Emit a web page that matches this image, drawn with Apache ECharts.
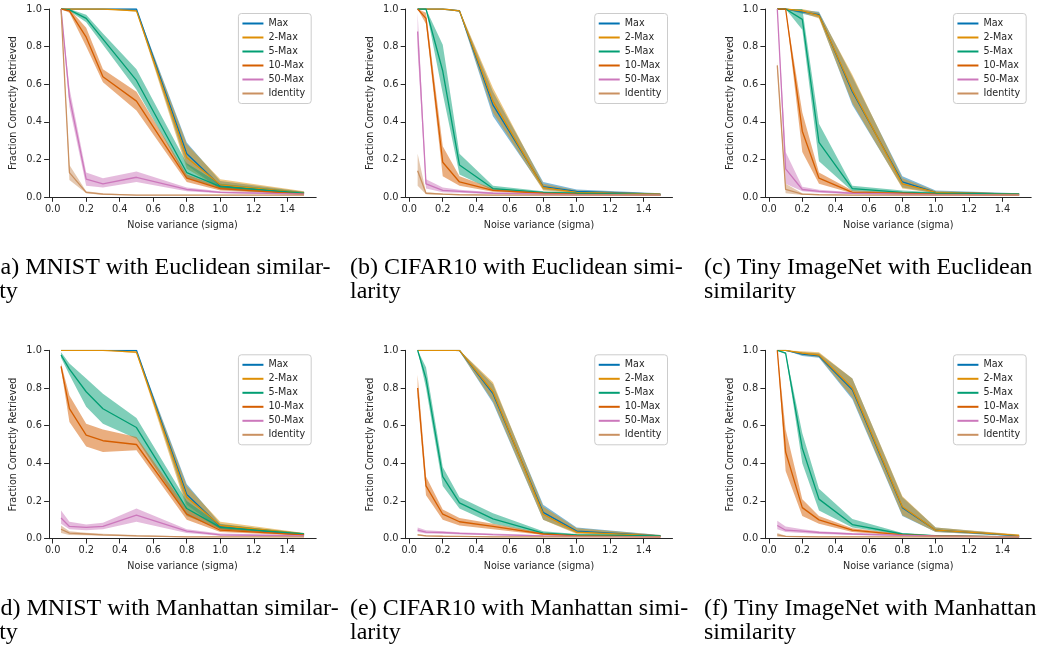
<!DOCTYPE html>
<html><head><meta charset="utf-8">
<script src="https://cdn.jsdelivr.net/npm/echarts@6/dist/echarts.min.js"></script>
<style>html,body{margin:0;padding:0;background:#fff}#c{width:1054px;height:647px}</style>
</head><body><div id="c"></div>
<script>
// ---------------- data ----------------
const sigma = [0.05, 0.1, 0.2, 0.3, 0.5, 0.8, 1.0, 1.5];
const seriesNames = ['Max', '2-Max', '5-Max', '10-Max', '50-Max', 'Identity'];
const seriesColors = ['#0173b2', '#de8f05', '#029e73', '#d55e00', '#cc78bc', '#ca9161'];
const xTicks = [0, 0.2, 0.4, 0.6, 0.8, 1.0, 1.2, 1.4];
const xLabel = 'Noise variance (sigma)';
const yLabel = 'Fraction Correctly Retrieved';
const captions = [
  ['(a) MNIST with Euclidean similar-', 'ity'],
  ['(b) CIFAR10 with Euclidean simi-', 'larity'],
  ['(c) Tiny ImageNet with Euclidean', 'similarity'],
  ['(d) MNIST with Manhattan similar-', 'ity'],
  ['(e) CIFAR10 with Manhattan simi-', 'larity'],
  ['(f) Tiny ImageNet with Manhattan', 'similarity']
];

// (a) MNIST, Euclidean
const aMax      = [1.0, 1.0, 1.0, 1.0, 1.0, 0.23, 0.06, 0.02];
const aMaxLo    = [1.0, 1.0, 1.0, 1.0, 0.99, 0.17, 0.04, 0.012];
const aMaxHi    = [1.0, 1.0, 1.0, 1.0, 1.0, 0.29, 0.085, 0.028];
const a2Max     = [1.0, 1.0, 1.0, 1.0, 0.99, 0.21, 0.065, 0.022];
const a2MaxLo   = [1.0, 1.0, 1.0, 1.0, 0.985, 0.15, 0.045, 0.015];
const a2MaxHi   = [1.0, 1.0, 1.0, 1.0, 0.995, 0.28, 0.095, 0.03];
const a5Max     = [1.0, 0.995, 0.95, 0.84, 0.62, 0.13, 0.055, 0.02];
const a5MaxLo   = [1.0, 0.99, 0.93, 0.81, 0.57, 0.10, 0.045, 0.015];
const a5MaxHi   = [1.0, 1.0, 0.97, 0.87, 0.68, 0.18, 0.07, 0.026];
const a10Max    = [1.0, 0.99, 0.85, 0.64, 0.51, 0.10, 0.045, 0.015];
const a10MaxLo  = [1.0, 0.98, 0.80, 0.61, 0.46, 0.08, 0.035, 0.01];
const a10MaxHi  = [1.0, 1.0, 0.90, 0.68, 0.56, 0.12, 0.055, 0.02];
const a50Max    = [1.0, 0.53, 0.095, 0.07, 0.105, 0.04, 0.025, 0.015];
const a50MaxLo  = [1.0, 0.48, 0.06, 0.05, 0.08, 0.03, 0.02, 0.01];
const a50MaxHi  = [1.0, 0.58, 0.13, 0.10, 0.135, 0.05, 0.03, 0.02];
const aId       = [1.0, 0.13, 0.025, 0.015, 0.01, 0.01, 0.01, 0.01];
const aIdLo     = [1.0, 0.09, 0.02, 0.01, 0.008, 0.008, 0.008, 0.008];
const aIdHi     = [1.0, 0.17, 0.03, 0.02, 0.012, 0.012, 0.012, 0.012];

// (b) CIFAR10, Euclidean
const bMax      = [1.0, 1.0, 1.0, 0.99, 0.49, 0.055, 0.03, 0.015];
const bMaxLo    = [1.0, 1.0, 1.0, 0.985, 0.43, 0.04, 0.022, 0.012];
const bMaxHi    = [1.0, 1.0, 1.0, 0.995, 0.56, 0.08, 0.04, 0.02];
const b2Max     = [1.0, 1.0, 1.0, 0.99, 0.51, 0.05, 0.025, 0.015];
const b2MaxLo   = [1.0, 1.0, 1.0, 0.985, 0.45, 0.035, 0.02, 0.012];
const b2MaxHi   = [1.0, 1.0, 1.0, 0.995, 0.58, 0.07, 0.035, 0.018];
const b5Max     = [1.0, 1.0, 0.67, 0.17, 0.045, 0.025, 0.02, 0.012];
const b5MaxLo   = [1.0, 1.0, 0.55, 0.12, 0.035, 0.02, 0.015, 0.01];
const b5MaxHi   = [1.0, 1.0, 0.81, 0.23, 0.06, 0.03, 0.025, 0.015];
const b10Max    = [1.0, 0.95, 0.185, 0.08, 0.035, 0.02, 0.015, 0.01];
const b10MaxLo  = [1.0, 0.92, 0.11, 0.06, 0.028, 0.015, 0.012, 0.008];
const b10MaxHi  = [1.0, 0.98, 0.27, 0.11, 0.045, 0.025, 0.02, 0.012];
const b50Max    = [0.88, 0.07, 0.035, 0.03, 0.02, 0.015, 0.012, 0.01];
const b50MaxLo  = [0.78, 0.045, 0.025, 0.022, 0.015, 0.012, 0.01, 0.008];
const b50MaxHi  = [0.98, 0.095, 0.05, 0.038, 0.025, 0.018, 0.015, 0.012];
const bId       = [0.14, 0.02, 0.015, 0.012, 0.01, 0.01, 0.01, 0.01];
const bIdLo     = [0.06, 0.015, 0.012, 0.01, 0.008, 0.008, 0.008, 0.008];
const bIdHi     = [0.23, 0.025, 0.018, 0.015, 0.012, 0.012, 0.012, 0.012];

// (c) Tiny ImageNet, Euclidean
const cMax      = [1.0, 1.0, 0.985, 0.97, 0.56, 0.08, 0.025, 0.015];
const cMaxLo    = [1.0, 1.0, 0.975, 0.955, 0.49, 0.05, 0.02, 0.012];
const cMaxHi    = [1.0, 1.0, 0.995, 0.985, 0.64, 0.11, 0.035, 0.02];
const c2Max     = [1.0, 1.0, 0.99, 0.965, 0.57, 0.07, 0.025, 0.015];
const c2MaxLo   = [1.0, 1.0, 0.98, 0.95, 0.50, 0.045, 0.02, 0.012];
const c2MaxHi   = [1.0, 1.0, 1.0, 0.98, 0.65, 0.10, 0.03, 0.018];
const c5Max     = [1.0, 1.0, 0.945, 0.29, 0.045, 0.025, 0.02, 0.015];
const c5MaxLo   = [1.0, 1.0, 0.89, 0.19, 0.03, 0.02, 0.015, 0.01];
const c5MaxHi   = [1.0, 1.0, 1.0, 0.39, 0.06, 0.035, 0.025, 0.018];
const c10Max    = [1.0, 1.0, 0.35, 0.10, 0.025, 0.02, 0.015, 0.01];
const c10MaxLo  = [1.0, 1.0, 0.24, 0.07, 0.02, 0.015, 0.012, 0.008];
const c10MaxHi  = [1.0, 1.0, 0.45, 0.13, 0.035, 0.025, 0.018, 0.012];
const c50Max    = [1.0, 0.15, 0.04, 0.03, 0.02, 0.015, 0.012, 0.01];
const c50MaxLo  = [1.0, 0.07, 0.03, 0.022, 0.015, 0.012, 0.01, 0.008];
const c50MaxHi  = [1.0, 0.24, 0.055, 0.038, 0.025, 0.018, 0.015, 0.012];
const cId       = [0.70, 0.04, 0.015, 0.012, 0.01, 0.01, 0.01, 0.01];
const cIdLo     = [0.68, 0.02, 0.01, 0.01, 0.008, 0.008, 0.008, 0.008];
const cIdHi     = [0.72, 0.07, 0.02, 0.015, 0.012, 0.012, 0.012, 0.012];

// (d) MNIST, Manhattan
const dMax      = [1.0, 1.0, 1.0, 1.0, 1.0, 0.235, 0.065, 0.02];
const dMaxLo    = [1.0, 1.0, 1.0, 1.0, 0.995, 0.18, 0.05, 0.015];
const dMaxHi    = [1.0, 1.0, 1.0, 1.0, 1.0, 0.29, 0.08, 0.025];
const d2Max     = [1.0, 1.0, 1.0, 1.0, 0.99, 0.22, 0.07, 0.025];
const d2MaxLo   = [1.0, 1.0, 1.0, 1.0, 0.985, 0.16, 0.05, 0.018];
const d2MaxHi   = [1.0, 1.0, 1.0, 1.0, 0.995, 0.28, 0.09, 0.03];
const d5Max     = [0.975, 0.9, 0.78, 0.69, 0.59, 0.16, 0.06, 0.025];
const d5MaxLo   = [0.96, 0.87, 0.70, 0.61, 0.53, 0.12, 0.05, 0.02];
const d5MaxHi   = [0.99, 0.93, 0.85, 0.77, 0.64, 0.20, 0.075, 0.03];
const d10Max    = [0.915, 0.69, 0.55, 0.52, 0.50, 0.13, 0.045, 0.02];
const d10MaxLo  = [0.90, 0.62, 0.49, 0.46, 0.47, 0.10, 0.035, 0.015];
const d10MaxHi  = [0.93, 0.76, 0.61, 0.58, 0.54, 0.16, 0.055, 0.025];
const d50Max    = [0.11, 0.065, 0.06, 0.065, 0.125, 0.04, 0.02, 0.015];
const d50MaxLo  = [0.08, 0.05, 0.045, 0.05, 0.09, 0.03, 0.015, 0.01];
const d50MaxHi  = [0.15, 0.09, 0.075, 0.085, 0.16, 0.05, 0.028, 0.02];
const dId       = [0.05, 0.03, 0.025, 0.02, 0.015, 0.01, 0.01, 0.01];
const dIdLo     = [0.03, 0.02, 0.018, 0.015, 0.012, 0.008, 0.008, 0.008];
const dIdHi     = [0.07, 0.04, 0.032, 0.026, 0.02, 0.012, 0.012, 0.012];

// (e) CIFAR10, Manhattan
const eMax      = [1.0, 1.0, 1.0, 1.0, 0.77, 0.14, 0.04, 0.015];
const eMaxLo    = [1.0, 1.0, 1.0, 0.995, 0.72, 0.10, 0.03, 0.012];
const eMaxHi    = [1.0, 1.0, 1.0, 1.0, 0.82, 0.18, 0.06, 0.02];
const e2Max     = [1.0, 1.0, 1.0, 1.0, 0.78, 0.13, 0.035, 0.015];
const e2MaxLo   = [1.0, 1.0, 1.0, 0.995, 0.73, 0.10, 0.025, 0.012];
const e2MaxHi   = [1.0, 1.0, 1.0, 1.0, 0.83, 0.17, 0.055, 0.02];
const e5Max     = [1.0, 0.85, 0.33, 0.19, 0.105, 0.03, 0.02, 0.015];
const e5MaxLo   = [1.0, 0.80, 0.28, 0.16, 0.08, 0.025, 0.015, 0.012];
const e5MaxHi   = [1.0, 0.91, 0.38, 0.22, 0.135, 0.04, 0.025, 0.018];
const e10Max    = [0.80, 0.28, 0.13, 0.09, 0.065, 0.025, 0.015, 0.01];
const e10MaxLo  = [0.75, 0.23, 0.10, 0.07, 0.05, 0.02, 0.012, 0.008];
const e10MaxHi  = [0.87, 0.33, 0.155, 0.11, 0.08, 0.03, 0.02, 0.012];
const e50Max    = [0.045, 0.035, 0.033, 0.028, 0.022, 0.015, 0.012, 0.01];
const e50MaxLo  = [0.035, 0.028, 0.026, 0.022, 0.018, 0.012, 0.01, 0.008];
const e50MaxHi  = [0.06, 0.045, 0.04, 0.034, 0.027, 0.018, 0.015, 0.012];
const eId       = [0.02, 0.015, 0.013, 0.012, 0.01, 0.01, 0.01, 0.01];
const eIdLo     = [0.015, 0.012, 0.01, 0.01, 0.008, 0.008, 0.008, 0.008];
const eIdHi     = [0.025, 0.018, 0.016, 0.014, 0.012, 0.012, 0.012, 0.012];

// (f) Tiny ImageNet, Manhattan
const fMax      = [1.0, 1.0, 0.98, 0.97, 0.79, 0.165, 0.045, 0.015];
const fMaxLo    = [1.0, 1.0, 0.97, 0.96, 0.74, 0.12, 0.035, 0.012];
const fMaxHi    = [1.0, 1.0, 0.99, 0.985, 0.85, 0.22, 0.06, 0.02];
const f2Max     = [1.0, 1.0, 0.985, 0.975, 0.80, 0.17, 0.045, 0.018];
const f2MaxLo   = [1.0, 1.0, 0.975, 0.965, 0.75, 0.125, 0.035, 0.014];
const f2MaxHi   = [1.0, 1.0, 0.995, 0.99, 0.85, 0.225, 0.06, 0.022];
const f5Max     = [1.0, 0.985, 0.48, 0.21, 0.075, 0.025, 0.015, 0.01];
const f5MaxLo   = [1.0, 0.98, 0.40, 0.15, 0.06, 0.02, 0.012, 0.008];
const f5MaxHi   = [1.0, 0.99, 0.56, 0.265, 0.105, 0.03, 0.02, 0.012];
const f10Max    = [1.0, 0.46, 0.165, 0.10, 0.045, 0.02, 0.015, 0.01];
const f10MaxLo  = [1.0, 0.36, 0.12, 0.08, 0.035, 0.015, 0.012, 0.008];
const f10MaxHi  = [1.0, 0.58, 0.21, 0.12, 0.055, 0.025, 0.018, 0.012];
const f50Max    = [0.07, 0.045, 0.04, 0.033, 0.025, 0.018, 0.013, 0.01];
const f50MaxLo  = [0.05, 0.035, 0.03, 0.025, 0.02, 0.014, 0.01, 0.008];
const f50MaxHi  = [0.095, 0.065, 0.05, 0.04, 0.03, 0.022, 0.016, 0.012];
const fId       = [0.02, 0.012, 0.011, 0.01, 0.01, 0.01, 0.01, 0.01];
const fIdLo     = [0.01, 0.009, 0.008, 0.008, 0.008, 0.008, 0.008, 0.008];
const fIdHi     = [0.03, 0.016, 0.014, 0.012, 0.012, 0.012, 0.012, 0.012];

// ---------------- assembly ----------------
const panels = [
  { mean: [aMax, a2Max, a5Max, a10Max, a50Max, aId], lo: [aMaxLo, a2MaxLo, a5MaxLo, a10MaxLo, a50MaxLo, aIdLo], hi: [aMaxHi, a2MaxHi, a5MaxHi, a10MaxHi, a50MaxHi, aIdHi] },
  { mean: [bMax, b2Max, b5Max, b10Max, b50Max, bId], lo: [bMaxLo, b2MaxLo, b5MaxLo, b10MaxLo, b50MaxLo, bIdLo], hi: [bMaxHi, b2MaxHi, b5MaxHi, b10MaxHi, b50MaxHi, bIdHi] },
  { mean: [cMax, c2Max, c5Max, c10Max, c50Max, cId], lo: [cMaxLo, c2MaxLo, c5MaxLo, c10MaxLo, c50MaxLo, cIdLo], hi: [cMaxHi, c2MaxHi, c5MaxHi, c10MaxHi, c50MaxHi, cIdHi] },
  { mean: [dMax, d2Max, d5Max, d10Max, d50Max, dId], lo: [dMaxLo, d2MaxLo, d5MaxLo, d10MaxLo, d50MaxLo, dIdLo], hi: [dMaxHi, d2MaxHi, d5MaxHi, d10MaxHi, d50MaxHi, dIdHi] },
  { mean: [eMax, e2Max, e5Max, e10Max, e50Max, eId], lo: [eMaxLo, e2MaxLo, e5MaxLo, e10MaxLo, e50MaxLo, eIdLo], hi: [eMaxHi, e2MaxHi, e5MaxHi, e10MaxHi, e50MaxHi, eIdHi] },
  { mean: [fMax, f2Max, f5Max, f10Max, f50Max, fId], lo: [fMaxLo, f2MaxLo, f5MaxLo, f10MaxLo, f50MaxLo, fIdLo], hi: [fMaxHi, f2MaxHi, f5MaxHi, f10MaxHi, f50MaxHi, fIdHi] }
];

const INK = '#262626';
const FONT = 'DejaVu Sans';
const colLeft = [48.9, 405.5, 765.2];
const colWidth = [267.3, 267, 266];
const rowTop = [9, 350.3];
const rowHeight = [188, 188.4];
const capX = [-7.5, 350, 704];
const capBase = [275, 616];
const bandOpacity = 0.5;

const grids = [], xAxes = [], yAxes = [], legends = [], series = [], graphics = [];

// band polygon: upper edge left->right, lower edge right->left, via axis scales
function bandRenderer(color) {
  return function (params, api) {
    if (params.dataIndex !== 0) return null;
    const upper = [], lower = [];
    for (let j = 0; j < sigma.length; j++) {
      upper.push(api.coord([api.value(0, j), api.value(2, j)]));
      lower.push(api.coord([api.value(0, j), api.value(1, j)]));
    }
    return {
      type: 'polygon', shape: { points: upper.concat(lower.reverse()) },
      style: { fill: color, opacity: bandOpacity }, silent: true
    };
  };
}

panels.forEach((p, i) => {
  const col = i % 3, row = Math.floor(i / 3);
  grids.push({ left: colLeft[col], top: rowTop[row], width: colWidth[col], height: rowHeight[row] });
  xAxes.push({
    type: 'value', gridIndex: i, min: -0.0225, max: 1.5725,
    axisLine: { show: true, onZero: false, lineStyle: { color: INK, width: 1 } },
    axisTick: { show: true, length: 4.8, customValues: xTicks, lineStyle: { color: INK, width: 1 } },
    axisLabel: { customValues: xTicks, formatter: v => v.toFixed(1), color: INK, fontSize: 9.8, fontFamily: FONT, margin: 7 },
    splitLine: { show: false },
    name: xLabel, nameLocation: 'middle', nameGap: 23,
    nameTextStyle: { color: INK, fontSize: 9.6, fontFamily: FONT }
  });
  yAxes.push({
    type: 'value', gridIndex: i, min: 0, max: 1, interval: 0.2,
    axisLine: { show: true, onZero: false, lineStyle: { color: INK, width: 1 } },
    axisTick: { show: true, length: 4.8, lineStyle: { color: INK, width: 1 } },
    axisLabel: { formatter: v => v.toFixed(1), color: INK, fontSize: 9.8, fontFamily: FONT, margin: 7 },
    splitLine: { show: false },
    name: yLabel, nameLocation: 'middle', nameGap: 30,
    nameTextStyle: { color: INK, fontSize: 9.6, fontFamily: FONT }
  });
  const gridRight = colLeft[col] + colWidth[col];
  legends.push({
    orient: 'vertical', right: 1054 - (gridRight - 5), top: rowTop[row] + 4.5,
    data: seriesNames, icon: 'rect', itemWidth: 21, itemHeight: 2, itemGap: 2,
    padding: [4, 6, 4, 4], backgroundColor: 'rgba(255,255,255,0.8)',
    borderColor: '#cccccc', borderWidth: 1, borderRadius: 3, selectedMode: false,
    textStyle: { color: INK, fontSize: 9.6, fontFamily: FONT, lineHeight: 12 }
  });
  // confidence bands (drawn below all lines, like matplotlib collections)
  seriesNames.forEach((nm, k) => {
    const lo = p.lo[k], hi = p.hi[k];
    series.push({
      type: 'custom', name: nm + ' band', xAxisIndex: i, yAxisIndex: i,
      data: sigma.map((x, j) => [x, lo[j], hi[j]]),
      encode: { x: 0, y: [1, 2] },
      renderItem: bandRenderer(seriesColors[k]), silent: true, z: 2, clip: true
    });
  });
  seriesNames.forEach((nm, k) => {
    series.push({
      type: 'line', name: nm, xAxisIndex: i, yAxisIndex: i,
      data: sigma.map((x, j) => [x, p.mean[k][j]]), symbol: 'none',
      color: seriesColors[k],
      lineStyle: { color: seriesColors[k], width: 1.3 }, itemStyle: { color: seriesColors[k] }, z: 3
    });
  });
  captions[i].forEach((t, l) => {
    graphics.push({
      type: 'text', x: capX[col], y: capBase[row] + l * 24 - 7.3,
      style: { text: t, fill: '#000', fontSize: 24, fontFamily: 'Liberation Serif', verticalAlign: 'middle', align: 'left' }
    });
  });
});

const chart = echarts.init(document.getElementById('c'), null, { renderer: 'canvas' });
chart.setOption({
  animation: false,
  backgroundColor: '#ffffff',
  grid: grids, xAxis: xAxes, yAxis: yAxes, legend: legends, series, graphic: graphics
});
</script>
</body></html>
